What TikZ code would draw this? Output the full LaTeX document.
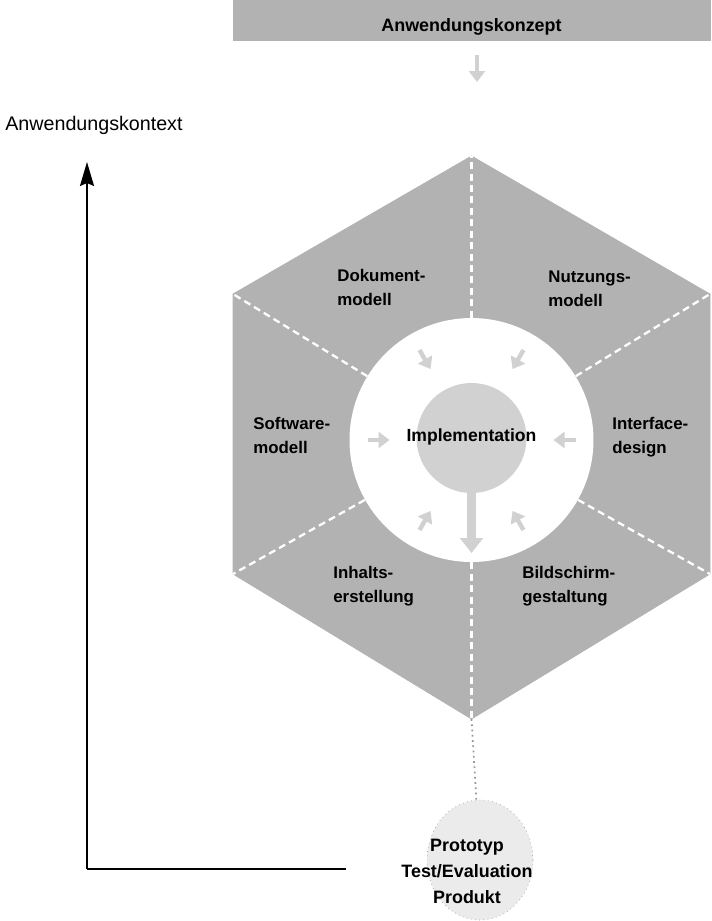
\documentclass[tikz,border=0pt]{standalone}
\usepackage{fontspec}
\setmainfont{Liberation Sans}
\usetikzlibrary{arrows.meta, shapes.geometric}

\begin{document}
\begin{tikzpicture}[x=0.02cm,y=-0.02cm,
  feld/.style={font=\fontsize{9.6}{13.7}\selectfont\bfseries, align=left, anchor=west, inner sep=0pt},
  trenner/.style={white, line width=1.3pt, dash pattern=on 4pt off 2.5pt},
  pfeilchen/.style={black!18, line width=2.5pt, -{Triangle[length=0.22cm,width=0.32cm]}}]
\useasboundingbox (0,0) rectangle (712,921);
%\draw[step=50,gray,very thin] (0,0) grid (712,921);
\draw[fill=black!30,black!30] (233,0) rectangle (710,40);
\node[font=\fontsize{10.2}{12}\selectfont\bfseries] (konzept) at (471.5,27) {Anwendungskonzept};
\coordinate (ka) at (477,55);
\coordinate (kb) at (477,82);
\draw[pfeilchen] (ka) -- (kb);
\coordinate (vt)  at (471.5,156);
\coordinate (vor) at (710,294);
\coordinate (vur) at (710,574);
\coordinate (vb)  at (471.5,719);
\coordinate (vul) at (233,574);
\coordinate (vol) at (233,294);
\draw[fill=black!30,black!30] (vt)--(vor)--(vur)--(vb)--(vul)--(vol)--cycle;
\node[circle,fill=white,minimum size=4.88cm,inner sep=0pt] (ring) at (471.5,440) {};
\draw[trenner] (ring) -- (vt);
\draw[trenner] (ring) -- (vor);
\draw[trenner] (ring) -- (vur);
\draw[trenner] (ring) -- (vb);
\draw[trenner] (ring) -- (vul);
\draw[trenner] (ring) -- (vol);
\node[circle,fill=black!18,minimum size=2.2cm,inner sep=0pt] (kern) at (471.5,438) {};
\coordinate (kernfuss) at (471.5,553);
\draw[black!18, line width=5pt, -{Triangle[length=0.3cm,width=0.45cm]}] (kern) -- (kernfuss);
\node[font=\fontsize{10}{12}\selectfont\bfseries] (impl) at (471.5,437) {Implementation};
\coordinate (p1) at (419.5,350);
\coordinate (q1) at (430.5,369);
\coordinate (p2) at (523.5,350);
\coordinate (q2) at (512.5,369);
\coordinate (p3) at (575.5,440);
\coordinate (q3) at (553.5,440);
\coordinate (p4) at (367.5,440);
\coordinate (q4) at (389.5,440);
\coordinate (p5) at (419.5,530);
\coordinate (q5) at (430.5,511);
\coordinate (p6) at (523.5,530);
\coordinate (q6) at (512.5,511);
\draw[pfeilchen] (p1) -- (q1);
\draw[pfeilchen] (p2) -- (q2);
\draw[pfeilchen] (p3) -- (q3);
\draw[pfeilchen] (p4) -- (q4);
\draw[pfeilchen] (p5) -- (q5);
\draw[pfeilchen] (p6) -- (q6);
\node[feld] (dok) at (337,287) {Dokument-\\modell};
\node[feld] (nutz) at (548,289) {Nutzungs-\\modell};
\node[feld] (soft) at (253,435) {Software-\\modell};
\node[feld] (inter) at (612,437) {Interface-\\design};
\node[feld] (inhalt) at (333,586) {Inhalts-\\erstellung};
\node[feld] (bild) at (522,586) {Bildschirm-\\gestaltung};
\node[ellipse,fill=black!8,draw=black!35,dotted,minimum width=2.12cm,minimum height=2.4cm] (wolke) at (480,860) {};
\draw[black!40, dotted, line width=1pt] (vb) -- (wolke);
\node[align=center, font=\fontsize{10.2}{14.8}\selectfont\bfseries] (ergebnis) at (467,871) {Prototyp\\Test/Evaluation\\Produkt};
\coordinate (ursprung) at (87,869);
\coordinate (ytop) at (87,162);
\coordinate (xend) at (346,869);
\draw[line width=1pt, -{Stealth[length=0.48cm,width=0.28cm,inset=0.06cm]}] (ursprung) -- (ytop);
\draw[line width=1pt] (ursprung) -- (xend);
\node[anchor=west, font=\fontsize{11.2}{13}\selectfont, inner sep=0pt] (kontext) at (5,125) {Anwendungskontext};
\end{tikzpicture}
\end{document}
